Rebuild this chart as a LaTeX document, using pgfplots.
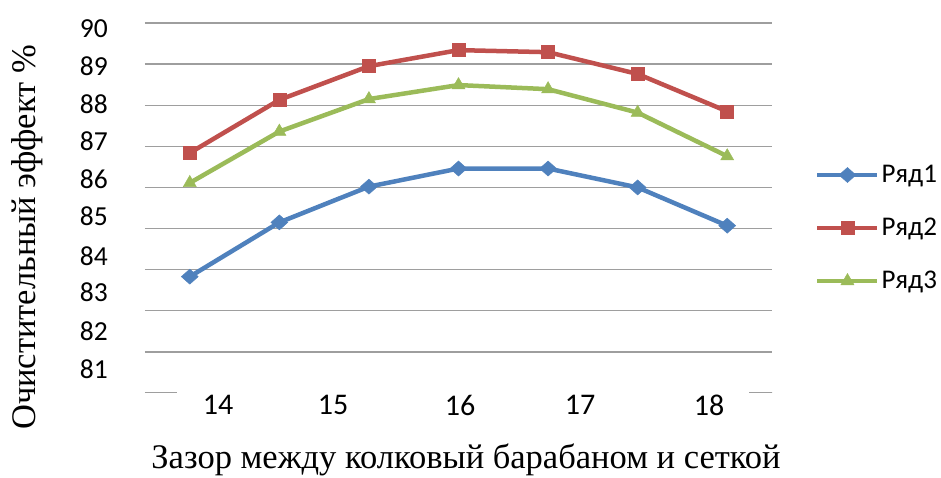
\documentclass[border=0pt]{standalone}
\usepackage{fontspec}
\setmainfont{Carlito}
\newfontfamily\tnr{Liberation Serif}
\usepackage{pgfplots}
\pgfplotsset{compat=1.18}
\definecolor{c1}{HTML}{4F81BD}
\definecolor{c2}{HTML}{C0504D}
\definecolor{c3}{HTML}{9BBB59}
\definecolor{gridc}{RGB}{158,158,158}
\begin{document}
\begin{tikzpicture}
\begin{axis}[name=ax, at={(0,0)}, anchor=south west,
  scale only axis, width=627pt, height=370pt,
  xmin=-0.5, xmax=6.5, ymin=81, ymax=90,
  axis line style={draw=none},
  /pgf/number format/assume math mode=true,
  major tick length=0pt, tick style={draw=none},
  xtick={0.315,1.599,3.017,4.357,5.797},
  xticklabels={14,15,16,17,18},
  ytick={81.58,82.51,83.46,84.33,85.31,86.21,87.13,88.03,88.95,89.87},
  yticklabels={81,82,83,84,85,86,87,88,89,90},
  extra y ticks={82,83,84,85,86,87,88,89,90},
  extra y tick labels={,,,,,,,,},
  extra y tick style={grid=major},
  major grid style={gridc, line width=1.3pt},
  yticklabel style={font=\fontsize{27.5}{27.5}\selectfont, anchor=east, inner sep=0pt, xshift=-37pt},
  xticklabel style={font=\fontsize{30}{30}\selectfont, anchor=north, inner sep=0pt, yshift=-2pt},
  xlabel={Зазор между колковый барабаном и сеткой},
  xlabel style={at={(axis description cs:0.512,-0.2054)}, anchor=base, font=\tnr\fontsize{34.5}{40}\selectfont},
  ylabel={Очистительный эффект \%},
  ylabel style={at={(axis description cs:-0.1754,0.4203)}, anchor=base, font=\tnr\fontsize{34.5}{40}\selectfont},
  legend style={at={(axis description cs:1.0686,0.4459)}, anchor=west, draw=none, fill=none,
    font=\fontsize{27}{27}\selectfont, inner sep=0pt, row sep=26pt,
    nodes={inner sep=2pt, text height=19pt, text depth=4pt}},
  legend cell align=left,
  legend image code/.code={\draw[mark repeat=2,mark phase=2,#1] plot coordinates {(0pt,0pt)(30pt,0pt)(60pt,0pt)};},
]
\addplot[c1, line width=4.5pt, mark=diamond*, mark size=7.5pt, mark options={solid, line width=0.5pt, xscale=1.5}]
  coordinates {(0,83.83)(1,85.15)(2,86.02)(3,86.46)(4,86.46)(5,86.00)(6,85.07)};
\addlegendentry{Ряд1}
\addplot[c2, line width=4.5pt, mark=square*, mark size=6.5pt, mark options={solid, line width=0.5pt}]
  coordinates {(0,86.84)(1,88.13)(2,88.95)(3,89.34)(4,89.29)(5,88.76)(6,87.85)};
\addlegendentry{Ряд2}
\addplot[c3, line width=4.5pt, mark=triangle*, mark size=7.5pt, mark options={solid, line width=0.5pt}]
  coordinates {(0,86.11)(1,87.36)(2,88.15)(3,88.49)(4,88.39)(5,87.82)(6,86.76)};
\addlegendentry{Ряд3}
\draw[gridc, line width=1.3pt] (rel axis cs:0,0) -- ++(32pt,0pt);
\draw[gridc, line width=1.3pt] ([xshift=-23pt]rel axis cs:1,0) -- (rel axis cs:1,0) -- ++(0pt,-10pt);
\end{axis}
\pgfresetboundingbox
\path[use as bounding box] (-145pt,-85pt) rectangle (796pt,393pt);
\end{tikzpicture}
\end{document}
